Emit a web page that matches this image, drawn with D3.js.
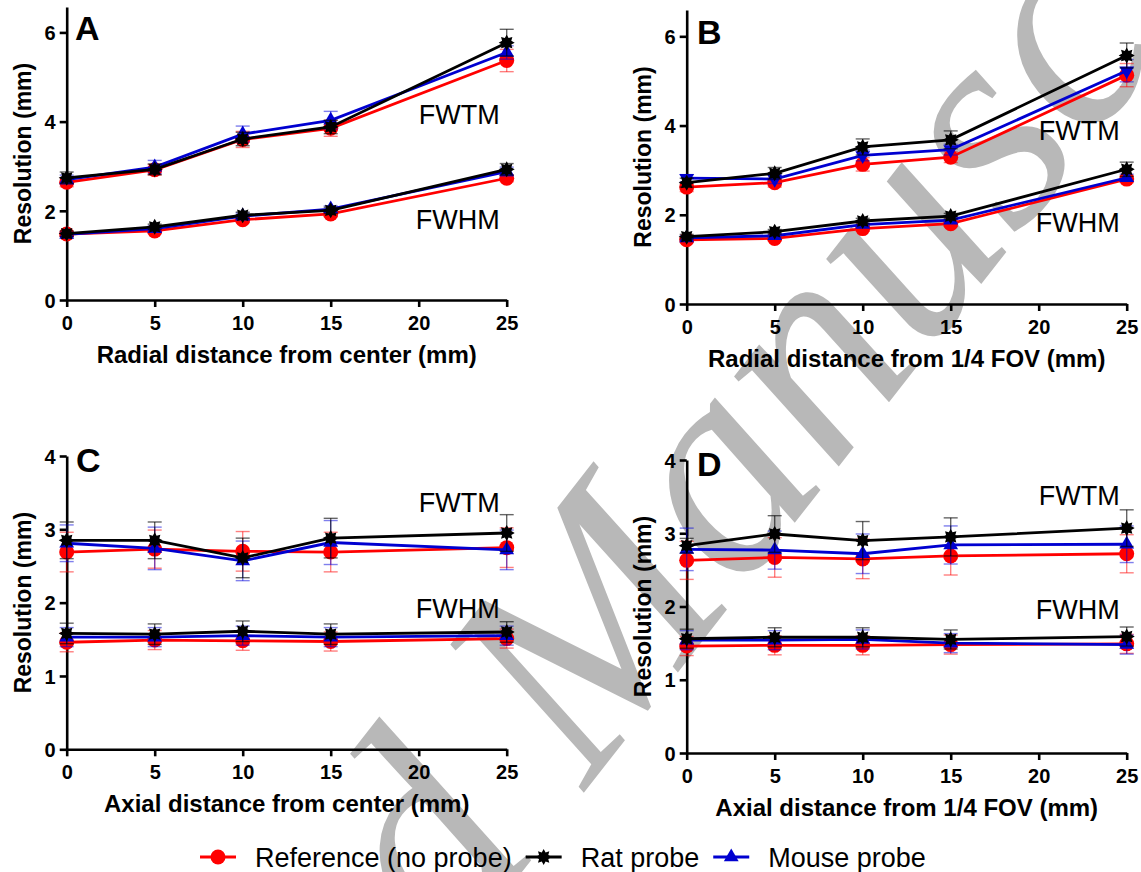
<!DOCTYPE html>
<html>
<head>
<meta charset="UTF-8">
<style>
  body { margin: 0; background: #fff; }
  svg { display: block; font-family: "Liberation Sans", Arial, sans-serif; }
  .tick text { font-size: 20px; font-weight: bold; fill: #000; }
  .domain, .tick line { stroke: #000; stroke-width: 2.6px; }
</style>
</head>
<body>
<svg></svg>
<script src="https://d3js.org/d3.v7.min.js"></script>
<script>
const width = 1141, height = 872;

// x positions (mm) where measured, and axis ticks
const distances = [0, 5, 10, 15, 25];
const xTicks = [0, 5, 10, 15, 20, 25];
const yTicksRadial = [0, 2, 4, 6];
const yTicksAxial = [0, 1, 2, 3, 4];
const seriesNames = ["Reference (no probe)", "Rat probe", "Mouse probe"];

// A: radial distance from center
const aRefTM   = [2.64, 2.92, 3.60, 3.85, 5.37];
const aRatTM   = [2.74, 2.93, 3.61, 3.88, 5.77];
const aMouseTM = [2.70, 2.98, 3.72, 4.03, 5.55];
const aRefTMsd   = [0.10, 0.12, 0.18, 0.18, 0.25];
const aRatTMsd   = [0.13, 0.12, 0.15, 0.15, 0.30];
const aMouseTMsd = [0.10, 0.15, 0.18, 0.20, 0.15];
const aRefHM   = [1.48, 1.55, 1.80, 1.93, 2.73];
const aRatHM   = [1.49, 1.64, 1.90, 2.01, 2.93];
const aMouseHM = [1.47, 1.60, 1.88, 2.04, 2.88];
const aRefHMsd   = [0.05, 0.05, 0.06, 0.06, 0.08];
const aRatHMsd   = [0.06, 0.06, 0.07, 0.07, 0.13];
const aMouseHMsd = [0.05, 0.06, 0.07, 0.07, 0.10];

// B: radial distance from 1/4 FOV
const bRefTM   = [2.62, 2.72, 3.13, 3.29, 5.13];
const bRatTM   = [2.72, 2.93, 3.52, 3.68, 5.57];
const bMouseTM = [2.82, 2.80, 3.33, 3.46, 5.23];
const bRefTMsd   = [0.10, 0.10, 0.15, 0.12, 0.26];
const bRatTMsd   = [0.10, 0.13, 0.18, 0.20, 0.28];
const bMouseTMsd = [0.08, 0.10, 0.12, 0.12, 0.25];
const bRefHM   = [1.44, 1.47, 1.69, 1.80, 2.80];
const bRatHM   = [1.51, 1.62, 1.86, 1.97, 3.02];
const bMouseHM = [1.48, 1.53, 1.78, 1.88, 2.83];
const bRefHMsd   = [0.05, 0.05, 0.06, 0.06, 0.08];
const bRatHMsd   = [0.05, 0.05, 0.06, 0.06, 0.16];
const bMouseHMsd = [0.05, 0.05, 0.06, 0.06, 0.08];

// C: axial distance from center
const cRefTM   = [2.69, 2.73, 2.70, 2.69, 2.75];
const cRatTM   = [2.85, 2.85, 2.61, 2.88, 2.95];
const cMouseTM = [2.81, 2.74, 2.57, 2.82, 2.72];
const cRefTMsd   = [0.27, 0.26, 0.27, 0.27, 0.27];
const cRatTMsd   = [0.25, 0.25, 0.27, 0.27, 0.25];
const cMouseTMsd = [0.25, 0.29, 0.27, 0.30, 0.27];
const cRefHM   = [1.46, 1.49, 1.48, 1.47, 1.51];
const cRatHM   = [1.58, 1.57, 1.61, 1.57, 1.60];
const cMouseHM = [1.53, 1.53, 1.55, 1.53, 1.55];
const cRefHMsd   = [0.13, 0.13, 0.13, 0.13, 0.13];
const cRatHMsd   = [0.14, 0.14, 0.14, 0.14, 0.14];
const cMouseHMsd = [0.13, 0.13, 0.13, 0.13, 0.13];

// D: axial distance from 1/4 FOV
const dRefTM   = [2.63, 2.67, 2.65, 2.69, 2.72];
const dRatTM   = [2.83, 2.99, 2.90, 2.95, 3.07];
const dMouseTM = [2.78, 2.77, 2.72, 2.84, 2.85];
const dRefTMsd   = [0.26, 0.27, 0.27, 0.26, 0.26];
const dRatTMsd   = [0.10, 0.25, 0.26, 0.26, 0.25];
const dMouseTMsd = [0.29, 0.26, 0.27, 0.26, 0.25];
const dRefHM   = [1.46, 1.47, 1.47, 1.48, 1.49];
const dRatHM   = [1.56, 1.58, 1.58, 1.55, 1.59];
const dMouseHM = [1.54, 1.54, 1.55, 1.50, 1.48];
const dRefHMsd   = [0.13, 0.13, 0.13, 0.13, 0.13];
const dRatHMsd   = [0.13, 0.13, 0.13, 0.13, 0.13];
const dMouseHMsd = [0.13, 0.13, 0.13, 0.13, 0.13];

const colors = ["#ff0000", "#000000", "#0000d0"];
const barColors = ["rgba(255,0,0,0.5)", "rgba(0,0,0,0.6)", "rgba(0,0,220,0.5)"];

const svg = d3.select("svg")
    .attr("width", width)
    .attr("height", height);

svg.append("rect").attr("width", width).attr("height", height).attr("fill", "#fff");

// watermark, behind everything
const wm = svg.append("g")
    .attr("transform", "translate(586,790) rotate(-52)")
    .style("font-family", "'Liberation Serif', 'DejaVu Serif', serif")
    .style("font-style", "italic")
    .style("font-size", "300px")
    .attr("fill", "#b8b8b8");
wm.append("text").attr("x", 0).text("Manuscript");
wm.append("text").attr("x", -70).attr("text-anchor", "end").text("Accepted");

// rat probe marker: small filled 8-point star
function starPath(R, r) {
    let pts = [];
    for (let i = 0; i < 16; i++) {
        let a = Math.PI * i / 8 - Math.PI / 2;
        let rad = i % 2 === 0 ? R : r;
        pts.push([Math.cos(a) * rad, Math.sin(a) * rad]);
    }
    return "M" + pts.map(p => p[0].toFixed(2) + "," + p[1].toFixed(2)).join("L") + "Z";
}

function drawMarker(g, k, down) {
    if (k === 0) {
        g.append("circle").attr("r", 7.5).attr("fill", colors[0]);
    } else if (k === 1) {
        g.append("path").attr("d", starPath(8, 5)).attr("fill", colors[1]);
    } else {
        g.append("path")
            .attr("d", d3.symbol().type(d3.symbolTriangle).size(95)())
            .attr("transform", down ? "rotate(180)" : null)
            .attr("fill", colors[2]);
    }
}

const panels = [
    {id: "A", x0: 66.7, x1: 506.7, yBase: 300, yTop: 7, yMax: 6.57, ticks: yTicksRadial,
     xLabel: "Radial distance from center (mm)", letterX: 75, letterY: 40, tmY: 124, hmY: 229, xLabelY: 363,
     series: [[aRefTM, aRatTM, aMouseTM], [aRefHM, aRatHM, aMouseHM]],
     sds: [[aRefTMsd, aRatTMsd, aMouseTMsd], [aRefHMsd, aRatHMsd, aMouseHMsd]], downTM: false},
    {id: "B", x0: 686.7, x1: 1126.7, yBase: 304, yTop: 10, yMax: 6.59, ticks: yTicksRadial,
     xLabel: "Radial distance from 1/4 FOV (mm)", letterX: 697, letterY: 44, tmY: 140, hmY: 232, xLabelY: 367,
     series: [[bRefTM, bRatTM, bMouseTM], [bRefHM, bRatHM, bMouseHM]],
     sds: [[bRefTMsd, bRatTMsd, bMouseTMsd], [bRefHMsd, bRatHMsd, bMouseHMsd]], downTM: true},
    {id: "C", x0: 66.7, x1: 506.7, yBase: 749.3, yTop: 456, yMax: 4, ticks: yTicksAxial,
     xLabel: "Axial distance from center (mm)", letterX: 76, letterY: 472, tmY: 512, hmY: 618, xLabelY: 812,
     series: [[cRefTM, cRatTM, cMouseTM], [cRefHM, cRatHM, cMouseHM]],
     sds: [[cRefTMsd, cRatTMsd, cMouseTMsd], [cRefHMsd, cRatHMsd, cMouseHMsd]], downTM: false},
    {id: "D", x0: 686.7, x1: 1126.7, yBase: 753, yTop: 460, yMax: 4, ticks: yTicksAxial,
     xLabel: "Axial distance from 1/4 FOV (mm)", letterX: 697, letterY: 476, tmY: 505, hmY: 619, xLabelY: 816,
     series: [[dRefTM, dRatTM, dMouseTM], [dRefHM, dRatHM, dMouseHM]],
     sds: [[dRefTMsd, dRatTMsd, dMouseTMsd], [dRefHMsd, dRatHMsd, dMouseHMsd]], downTM: false}
];

const drawOrder = [0, 2, 1]; // red, blue, black on top

panels.forEach(p => {
    const x = d3.scaleLinear().domain([0, 25]).range([p.x0, p.x1]);
    const y = d3.scaleLinear().domain([0, p.yMax]).range([p.yBase, p.yTop]);
    const g = svg.append("g");

    g.append("g")
        .attr("transform", `translate(0,${p.yBase})`)
        .call(d3.axisBottom(x).tickValues(xTicks).tickFormat(d3.format("d"))
            .tickSize(7).tickPadding(9).tickSizeOuter(0));

    g.append("g")
        .attr("transform", `translate(${p.x0},0)`)
        .call(d3.axisLeft(y).tickValues(p.ticks).tickFormat(d3.format("d"))
            .tickSize(7).tickPadding(4).tickSizeOuter(0))
        .selectAll(".tick text").attr("dy", "0.36em");

    // axis titles
    g.append("text")
        .attr("transform", `translate(${p.x0 - 36},${(p.yBase + p.yTop) / 2}) rotate(-90)`)
        .attr("text-anchor", "middle")
        .style("font-size", "23px").style("font-weight", "bold")
        .text("Resolution (mm)");

    g.append("text")
        .attr("x", (p.x0 + p.x1) / 2).attr("y", p.xLabelY)
        .attr("text-anchor", "middle")
        .style("font-size", "24px").style("font-weight", "bold")
        .text(p.xLabel);

    g.append("text")
        .attr("x", p.letterX).attr("y", p.letterY)
        .style("font-size", "34px").style("font-weight", "bold")
        .text(p.id);

    g.append("text").attr("x", p.x1 - 7).attr("y", p.tmY).attr("text-anchor", "end")
        .style("font-size", "27px").text("FWTM");
    g.append("text").attr("x", p.x1 - 7).attr("y", p.hmY).attr("text-anchor", "end")
        .style("font-size", "27px").text("FWHM");

    const line = d3.line().x(d => x(d[0])).y(d => y(d[1]));

    p.series.forEach((group, m) => {
        drawOrder.forEach(k => {
            const vals = group[k], sd = p.sds[m][k];
            const pts = distances.map((d, i) => [d, vals[i], sd[i]]);
            const sg = g.append("g");

            // error bars
            const eb = sg.selectAll(".eb").data(pts).join("g").attr("stroke", barColors[k]).attr("stroke-width", 1.4);
            eb.append("line")
                .attr("x1", d => x(d[0])).attr("x2", d => x(d[0]))
                .attr("y1", d => y(d[1] - d[2])).attr("y2", d => y(d[1] + d[2]));
            eb.append("line")
                .attr("x1", d => x(d[0]) - 7).attr("x2", d => x(d[0]) + 7)
                .attr("y1", d => y(d[1] + d[2])).attr("y2", d => y(d[1] + d[2]));
            eb.append("line")
                .attr("x1", d => x(d[0]) - 7).attr("x2", d => x(d[0]) + 7)
                .attr("y1", d => y(d[1] - d[2])).attr("y2", d => y(d[1] - d[2]));

            sg.append("path")
                .attr("d", line(pts))
                .attr("fill", "none")
                .attr("stroke", colors[k])
                .attr("stroke-width", 2.8);

            pts.forEach(d => {
                const mg = sg.append("g").attr("transform", `translate(${x(d[0])},${y(d[1])})`);
                drawMarker(mg, k, p.downTM && m === 0);
            });
        });
    });
});

// legend
const legend = svg.append("g").attr("transform", "translate(200,857)");
let lx = 0;
seriesNames.forEach((name, k) => {
    const item = legend.append("g").attr("transform", `translate(${lx},0)`);
    item.append("line").attr("x1", 0).attr("x2", 36).attr("y1", 0).attr("y2", 0)
        .attr("stroke", colors[k]).attr("stroke-width", 2.8);
    const mg = item.append("g").attr("transform", "translate(18,0)");
    drawMarker(mg, k, false);
    const t = item.append("text").attr("x", 55).attr("y", 9.5)
        .style("font-size", "27px").text(name);
    lx += 55 + t.node().getComputedTextLength() + 14;
});
</script>
</body>
</html>
